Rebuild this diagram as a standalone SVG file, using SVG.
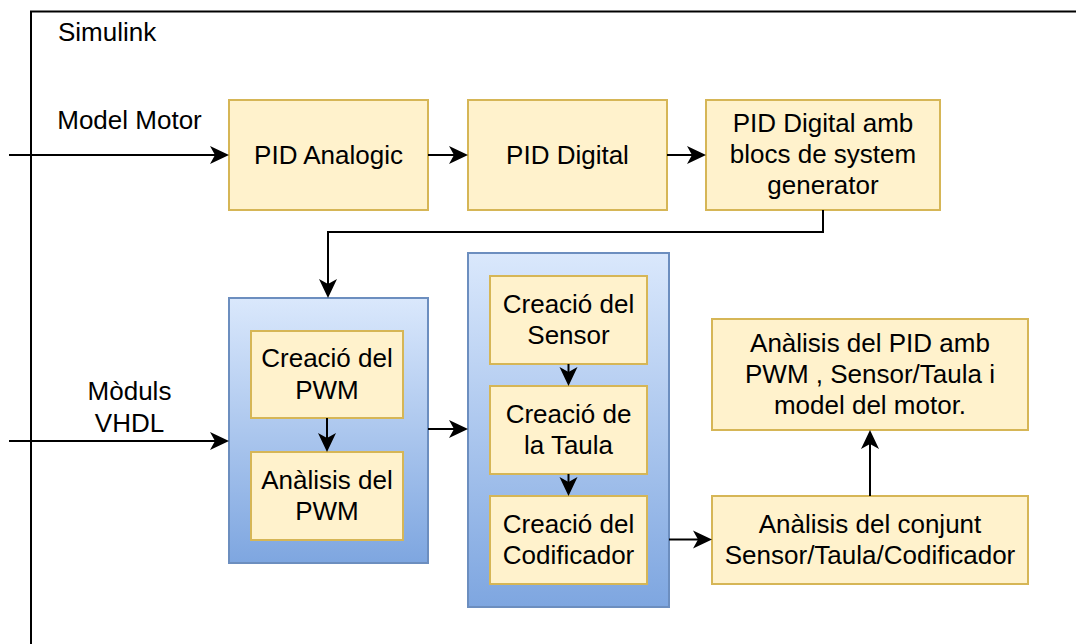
<svg xmlns="http://www.w3.org/2000/svg" width="1076" height="644" viewBox="0 0 1076 644">
<style>
.box{fill:#fff2cc;stroke:#d6b656;stroke-width:2}
.cont{stroke:#6c8ebf;stroke-width:2;fill:url(#blue)}
text{font-family:"Liberation Sans",Arial,sans-serif;font-size:26px;fill:#000}
.c{text-anchor:middle}
.ln{fill:none;stroke:#000;stroke-width:2;marker-end:url(#ah)}
</style>
<defs>
<linearGradient id="blue" x1="0" y1="0" x2="0" y2="1">
<stop offset="0" stop-color="#dae8fc"/>
<stop offset="1" stop-color="#7ea6e0"/>
</linearGradient>
<marker id="ah" viewBox="0 0 20 20" refX="5" refY="10" markerWidth="20" markerHeight="20" markerUnits="userSpaceOnUse" orient="auto">
<path d="M0,1 L19,10 L0,19 L5,10 Z" fill="#000"/>
</marker>
</defs>
<rect width="1076" height="644" fill="#fff"/>
<g id="frame">
<rect x="31" y="11.5" width="1100" height="700" fill="none" stroke="#000" stroke-width="2"/>
<text x="58" y="41">Simulink</text>
</g>
<g id="label-model-motor"><text class="c" x="129.5" y="129">Model Motor</text></g>
<g id="label-moduls-vhdl"><text class="c" x="129.5" y="400">Mòduls</text><text class="c" x="129.5" y="432">VHDL</text></g>
<g id="pid-analogic"><rect class="box" x="229" y="100" width="199" height="110"/><text class="c" x="328.5" y="163.5">PID Analogic</text></g>
<g id="pid-digital"><rect class="box" x="468" y="100" width="199" height="110"/><text class="c" x="567.5" y="163.5">PID Digital</text></g>
<g id="pid-digital-sg"><rect class="box" x="706" y="100" width="234" height="110"/><text class="c" x="823" y="132">PID Digital amb</text><text class="c" x="823" y="163">blocs de system</text><text class="c" x="823" y="194">generator</text></g>
<g id="pwm-group"><rect class="cont" x="229" y="298" width="199" height="265"/></g>
<g id="sensor-group"><rect class="cont" x="468" y="253" width="201" height="354"/></g>
<g id="creacio-pwm"><rect class="box" x="251" y="331" width="152" height="87"/><text class="c" x="327" y="367.4">Creació del</text><text class="c" x="327" y="398.6">PWM</text></g>
<g id="analisis-pwm"><rect class="box" x="251" y="452" width="152" height="88"/><text class="c" x="327" y="488.9">Anàlisis del</text><text class="c" x="327" y="520.1">PWM</text></g>
<g id="creacio-sensor"><rect class="box" x="490" y="276" width="157" height="88"/><text class="c" x="568.5" y="312.9">Creació del</text><text class="c" x="568.5" y="344.1">Sensor</text></g>
<g id="creacio-taula"><rect class="box" x="490" y="386" width="157" height="88"/><text class="c" x="568.5" y="422.9">Creació de</text><text class="c" x="568.5" y="454.1">la Taula</text></g>
<g id="creacio-codificador"><rect class="box" x="490" y="496" width="157" height="88"/><text class="c" x="568.5" y="532.9">Creació del</text><text class="c" x="568.5" y="564.1">Codificador</text></g>
<g id="analisis-pid"><rect class="box" x="712" y="319" width="316" height="111"/><text class="c" x="870" y="351.7">Anàlisis del PID amb</text><text class="c" x="870" y="382.9">PWM , Sensor/Taula i</text><text class="c" x="870" y="414.1">model del motor.</text></g>
<g id="analisis-conjunt"><rect class="box" x="712" y="496" width="316" height="88"/><text class="c" x="870" y="532.9">Anàlisis del conjunt</text><text class="c" x="870" y="564.1">Sensor/Taula/Codificador</text></g>
<g id="connectors">
<path class="ln" d="M9,155 H215"/>
<path class="ln" d="M428,155 H454"/>
<path class="ln" d="M667,155 H692"/>
<path class="ln" d="M823,210 V232 H328 V284"/>
<path class="ln" d="M9,441 H215"/>
<path class="ln" d="M327,418 V438"/>
<path class="ln" d="M428,429 H454"/>
<path class="ln" d="M568.5,364 V372"/>
<path class="ln" d="M568.5,474 V482"/>
<path class="ln" d="M669,539.5 H698"/>
<path class="ln" d="M870,496 V444"/>
</g>
</svg>
